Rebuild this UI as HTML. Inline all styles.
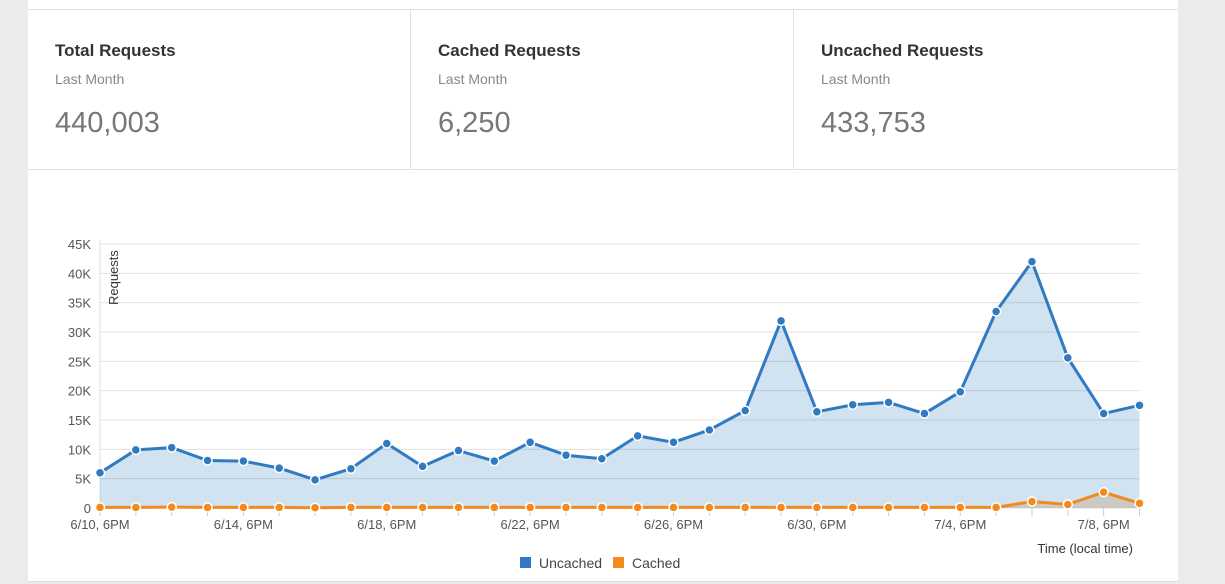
<!DOCTYPE html>
<html><head><meta charset="utf-8">
<style>
body{margin:0;width:1225px;height:584px;background:#ebebeb;font-family:"Liberation Sans",sans-serif;overflow:hidden;position:relative}
.card{position:absolute;left:28px;top:0;width:1150px;height:581px;background:#fff;border-bottom:1px solid #ddd}
.strip{position:absolute;left:0;top:0;width:1150px;height:9px;border-bottom:1px solid #e2e2e2}
.stat{position:absolute;top:10px;height:159px;border-bottom:1px solid #e2e2e2}
.stat h3{position:absolute;left:27px;top:31px;margin:0;font-size:17px;font-weight:bold;color:#333}
.stat .sub{position:absolute;left:27px;top:61px;font-size:14px;color:#888}
.stat .num{position:absolute;left:27px;top:97px;font-size:29px;color:#777}
svg{position:absolute;left:0;top:0}
</style></head><body>
<div class="card">
<div class="strip"></div>
<div class="stat" style="left:0;width:382px;border-right:1px solid #e2e2e2"><h3>Total Requests</h3><div class="sub">Last Month</div><div class="num">440,003</div></div>
<div class="stat" style="left:383px;width:382px;border-right:1px solid #e2e2e2"><h3>Cached Requests</h3><div class="sub">Last Month</div><div class="num">6,250</div></div>
<div class="stat" style="left:766px;width:384px"><h3>Uncached Requests</h3><div class="sub">Last Month</div><div class="num">433,753</div></div>
</div>
<svg id="chart" width="1225" height="584"></svg>
<script>
const uncached=[6000,9900,10300,8100,8000,6800,4800,6700,11000,7100,9800,8000,11200,9000,8400,12300,11200,13300,16600,31900,16400,17600,18000,16100,19800,33500,42000,25600,16100,17500];
const cached=[100,100,150,100,100,100,50,100,100,100,100,100,100,100,100,100,100,100,100,100,100,100,100,100,100,100,1100,600,2700,800];
const yTicks=[0,5000,10000,15000,20000,25000,30000,35000,40000,45000];
const yTickLabels=["0","5K","10K","15K","20K","25K","30K","35K","40K","45K"];
const xLabels=["6/10, 6PM","6/14, 6PM","6/18, 6PM","6/22, 6PM","6/26, 6PM","6/30, 6PM","7/4, 6PM","7/8, 6PM"];
const X0=100,X1=1139.5,Y0=508,Y45=244;
const n=uncached.length;
const x=i=>X0+(X1-X0)*i/(n-1);
const y=v=>Y0-(Y0-Y45)*v/45000;
const svg=document.getElementById('chart');
const NS='http://www.w3.org/2000/svg';
function mk(t,a){const e=document.createElementNS(NS,t);for(const k in a)e.setAttribute(k,a[k]);svg.appendChild(e);return e;}
yTicks.forEach((v,i)=>{
 const g=mk('line',{x1:X0,x2:X1,y1:y(v),y2:y(v),stroke:'#e0e0e0','stroke-width':1});
 
 
 const t=mk('text',{x:91,y:y(v)+5,'text-anchor':'end','font-size':13,fill:'#555','font-family':'Liberation Sans, sans-serif'});
 t.textContent=yTickLabels[i];
 
 
});
const ax=mk('line',{x1:X0,x2:X0,y1:Y45-4,y2:Y0+8,stroke:'#ddd'});


for(let i=0;i<n;i++){const tk=mk('line',{x1:x(i),x2:x(i),y1:Y0,y2:Y0+8,stroke:'#ccc'});
 
 }
xLabels.forEach((l,k)=>{const t=mk('text',{x:x(k*4),y:Y0+21,'text-anchor':'middle','font-size':13,fill:'#555','font-family':'Liberation Sans, sans-serif'});t.textContent=l;
 
 });
function area(d,fill,name){let p='M'+x(0)+','+Y0;d.forEach((v,i)=>p+='L'+x(i)+','+y(v));p+='L'+x(n-1)+','+Y0+'Z';const e=mk('path',{d:p,fill:fill});
 
 }
function line(d,col,name){let p='';d.forEach((v,i)=>p+=(i?'L':'M')+x(i)+','+y(v));const e=mk('path',{d:p,fill:'none',stroke:col,'stroke-width':3,'stroke-linejoin':'round'});
 
 
 d.forEach((v,i)=>{const c=mk('circle',{cx:x(i),cy:y(v),r:4.5,fill:col,stroke:'#fff','stroke-width':1.5});
 
 });}
area(uncached,'rgba(47,122,193,0.22)','uncached-area');
area(cached,'rgba(200,170,140,0.45)','cached-area');
line(uncached,'#2f7ac1','uncached-line');
line(cached,'#f28a1e','cached-line');
const yt=mk('text',{transform:'translate(118,305) rotate(-90)','font-size':13,fill:'#333','font-family':'Liberation Sans, sans-serif'});yt.textContent='Requests';


const xt=mk('text',{x:1133,y:553,'text-anchor':'end','font-size':13,fill:'#333','font-family':'Liberation Sans, sans-serif'});xt.textContent='Time (local time)';


[['#2f7ac1','Uncached',520],['#f28a1e','Cached',613]].forEach(([c,l,lx])=>{
 const r=mk('rect',{x:lx,y:557,width:11,height:11,fill:c});
 
 
 const t=mk('text',{x:lx+19,y:568,'font-size':14,fill:'#444','font-family':'Liberation Sans, sans-serif'});t.textContent=l;
 
 
});
</script>
</body></html>
